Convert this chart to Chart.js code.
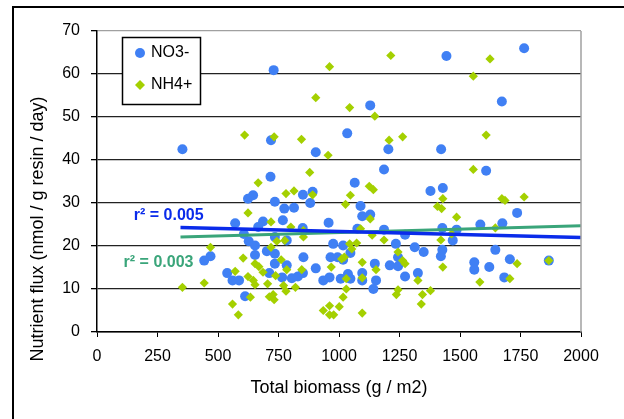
<!DOCTYPE html>
<html>
<head>
<meta charset="utf-8">
<script src="https://cdn.jsdelivr.net/npm/chart.js@4"></script>
<style>
  html, body { margin: 0; padding: 0; background: #fff; overflow: hidden; }
  #chart { display: block; }
</style>
</head>
<body>
<canvas id="chart" width="624" height="419"></canvas>
<script>
// NO3- samples: total biomass (g / m2) and flux
const no3Biomass = [353,730,719,717,1765,1444,1129,1673,1034,904,1204,1422,1186,1608,1065,1378,1429,891,851,881,645,624,735,1089,814,774,1736,1129,1096,571,686,768,957,1584,1675,666,850,1076,1186,1427,1486,1273,607,735,784,627,653,976,1017,1235,1313,1350,1427,1470,1646,702,735,653,1047,1421,853,965,994,1017,1244,469,443,1706,1867,1559,1559,1148,1210,1244,1621,735,784,712,765,805,830,851,538,560,587,612,904,935,961,1007,1037,1047,1096,1096,1142,1153,1273,1326,1683];
const no3Flux = [42.5,60.9,44.6,36.1,66.0,64.2,52.7,53.6,46.2,41.8,42.5,42.5,37.8,37.5,34.7,32.8,33.5,32.6,31.9,30.0,31.8,31.0,30.3,29.3,28.9,28.7,27.7,27.3,26.9,25.3,25.7,26.0,25.4,25.0,25.3,24.4,24.2,24.0,23.8,24.2,23.8,22.6,22.8,22.1,21.3,21.1,20.1,20.5,20.1,20.5,19.7,18.6,19.1,21.3,19.1,18.8,18.2,17.9,18.4,17.6,17.4,17.4,17.4,16.8,17.4,17.6,16.6,16.9,16.6,16.2,14.5,15.9,15.5,15.3,15.1,15.9,15.5,13.7,12.7,12.5,12.9,13.7,13.7,12.0,12.0,8.3,14.8,12.0,12.7,12.4,13.5,12.4,13.7,12.0,10.0,12.0,12.9,13.7,12.7];

// NH4+ samples
const nh4Biomass = [353,443,469,560,584,571,604,610,624,624,634,646,653,653,669,666,686,705,712,728,732,719,719,732,738,743,761,771,776,781,784,781,814,801,820,845,853,853,846,879,891,904,935,955,961,961,968,961,978,1001,1011,1022,1027,1017,1030,1030,1047,1044,1044,1053,1073,1089,1096,1096,1096,1125,1142,1129,1137,1148,1153,1186,1207,1214,1237,1244,1244,1263,1263,1273,1326,1340,1345,1378,1407,1424,1429,1421,1429,1465,1486,1555,1555,1582,1608,1624,1646,1673,1686,1706,1736,1765,1867];
const nh4Flux = [10.4,11.4,19.7,6.5,4.0,14.1,17.2,45.8,27.7,12.9,8.1,12.0,11.0,15.9,15.2,34.7,13.9,11.2,8.2,8.7,7.5,25.6,19.7,45.4,13.1,21.1,16.8,10.8,21.3,32.2,14.5,9.5,32.8,24.4,10.4,44.8,23.6,22.1,14.5,37.1,31.9,54.5,5.0,41.1,61.7,6.1,15.1,4.0,4.0,5.9,17.0,17.4,29.7,8.1,10.0,12.4,31.8,52.2,20.5,19.3,20.7,24.0,16.2,12.6,4.4,33.9,33.1,26.3,22.5,50.2,14.5,21.4,44.6,64.3,8.7,18.6,9.8,45.4,16.6,15.9,12.0,6.5,8.7,9.6,29.2,28.7,31.0,21.4,15.1,22.8,26.7,59.5,37.8,11.6,45.8,63.5,24.2,31.0,30.6,12.4,15.9,31.4,16.6];

// linear trend lines (end points)
const trendX = [345, 2000];
const no3Trend = [24.3, 22.0];
const nh4Trend = [22.1, 24.7];

// r2 labels: [text, biomass at left edge, flux]
const r2Labels = [
    ['r\u00b2 = 0.005', 152, 27.0, '#0a2bea'],
    ['r\u00b2 = 0.003', 110, 16.2, '#3aa57a']
];

const xTicks = [0, 250, 500, 750, 1000, 1250, 1500, 1750, 2000];

const FONT = '"Liberation Sans", Arial, sans-serif';

function pts(xs, ys) {
    return xs.map((x, i) => ({ x: x, y: ys[i] }));
}

// extra drawing: outer frame, plot border, legend, r2 text, y title
const extras = {
    id: 'extras',
    beforeDraw(chart) {
        const ctx = chart.ctx;
        ctx.save();
        ctx.fillStyle = '#fff';
        ctx.fillRect(0, 0, chart.width, chart.height);
        ctx.strokeStyle = '#000';
        ctx.lineWidth = 2;
        ctx.strokeRect(13, 7, 1000, 1000);
        ctx.restore();
    },
    afterDatasetsDraw(chart) {
        const ctx = chart.ctx;
        const a = chart.chartArea;
        const xs = chart.scales.x, ys = chart.scales.y;
        ctx.save();
        // right plot border
        ctx.strokeStyle = '#a0a0a0';
        ctx.lineWidth = 1.5;
        ctx.beginPath();
        ctx.moveTo(a.right, a.top);
        ctx.lineTo(a.right, a.bottom);
        ctx.stroke();

        // r2 labels
        ctx.font = 'bold 16px ' + FONT;
        ctx.textBaseline = 'middle';
        ctx.textAlign = 'left';
        r2Labels.forEach(l => {
            ctx.fillStyle = l[3];
            ctx.fillText(l[0], xs.getPixelForValue(l[1]), ys.getPixelForValue(l[2]));
        });

        // legend box
        const ds = chart.data.datasets;
        const lx = 122, ly = 37;
        ctx.fillStyle = '#fff';
        ctx.fillRect(lx, ly, 78, 67);
        ctx.strokeStyle = '#000';
        ctx.lineWidth = 1.5;
        ctx.strokeRect(lx + 0.5, ly + 0.5, 78, 67);
        ctx.fillStyle = ds[3].backgroundColor;
        ctx.beginPath();
        ctx.arc(lx + 18, ly + 16, 5, 0, Math.PI * 2);
        ctx.fill();
        ctx.fillStyle = ds[2].backgroundColor;
        ctx.beginPath();
        ctx.moveTo(lx + 13, ly + 48);
        ctx.lineTo(lx + 18, ly + 43);
        ctx.lineTo(lx + 23, ly + 48);
        ctx.lineTo(lx + 18, ly + 53);
        ctx.closePath();
        ctx.fill();
        ctx.fillStyle = '#000';
        ctx.font = '16px ' + FONT;
        ctx.fillText(ds[3].label, lx + 29, ly + 16);
        ctx.fillText(ds[2].label, lx + 29, ly + 48);

        // y axis title
        ctx.translate(38, 229);
        ctx.rotate(-Math.PI / 2);
        ctx.textAlign = 'center';
        ctx.font = '18px ' + FONT;
        ctx.fillText('Nutrient flux (nmol / g resin / day)', 0, 0);
        ctx.restore();
    }
};

const ctx = document.getElementById('chart').getContext('2d');
const chart = new Chart(ctx, {
    type: 'scatter',
    data: {
        datasets: [
            {
                type: 'line',
                label: 'NO3- trend',
                data: pts(trendX, no3Trend),
                borderColor: '#0a2bea',
                borderWidth: 3.5,
                pointRadius: 0,
                fill: false,
                order: 0
            },
            {
                type: 'line',
                label: 'NH4+ trend',
                data: pts(trendX, nh4Trend),
                borderColor: '#3aa57a',
                borderWidth: 3,
                pointRadius: 0,
                fill: false,
                order: 1
            },
            {
                label: 'NH4+',
                data: pts(nh4Biomass, nh4Flux),
                pointStyle: 'rectRot',
                pointRadius: 4.6,
                backgroundColor: 'rgb(164,208,0)',
                borderWidth: 0,
                order: 2
            },
            {
                label: 'NO3-',
                data: pts(no3Biomass, no3Flux),
                pointStyle: 'circle',
                pointRadius: 5,
                backgroundColor: 'rgb(64,128,244)',
                borderWidth: 0,
                order: 3
            }
        ]
    },
    options: {
        responsive: false,
        animation: false,
        layout: { padding: { left: 24, top: 31, right: 43, bottom: 20 } },
        plugins: {
            legend: { display: false },
            tooltip: { enabled: false }
        },
        scales: {
            x: {
                type: 'linear',
                min: 0,
                max: 2000,
                afterFit: s => { s.height = 67; },
                afterBuildTicks: s => { s.ticks = xTicks.map(v => ({ value: v })); },
                ticks: {
                    color: '#000',
                    font: { family: FONT, size: 16 },
                    padding: 10,
                    maxRotation: 0,
                    callback: v => String(v)
                },
                grid: { drawOnChartArea: false, tickLength: 5, tickColor: '#000' },
                border: { color: '#000', width: 1.5 },
                title: {
                    display: true,
                    text: 'Total biomass (g / m2)',
                    color: '#000',
                    font: { family: FONT, size: 18 },
                    padding: 0
                }
            },
            y: {
                min: 0,
                max: 70,
                afterFit: s => { s.width = 73; },
                ticks: { stepSize: 10, color: '#000', font: { family: FONT, size: 16 }, padding: 11 },
                grid: {
                    color: c => (c.tick && c.tick.value === 70 ? '#a0a0a0' : '#222'),
                    lineWidth: 1.3,
                    tickLength: 6,
                    tickColor: '#000'
                },
                border: { color: '#000', width: 1.5 }
            }
        }
    },
    plugins: [extras]
});
</script>
</body>
</html>
